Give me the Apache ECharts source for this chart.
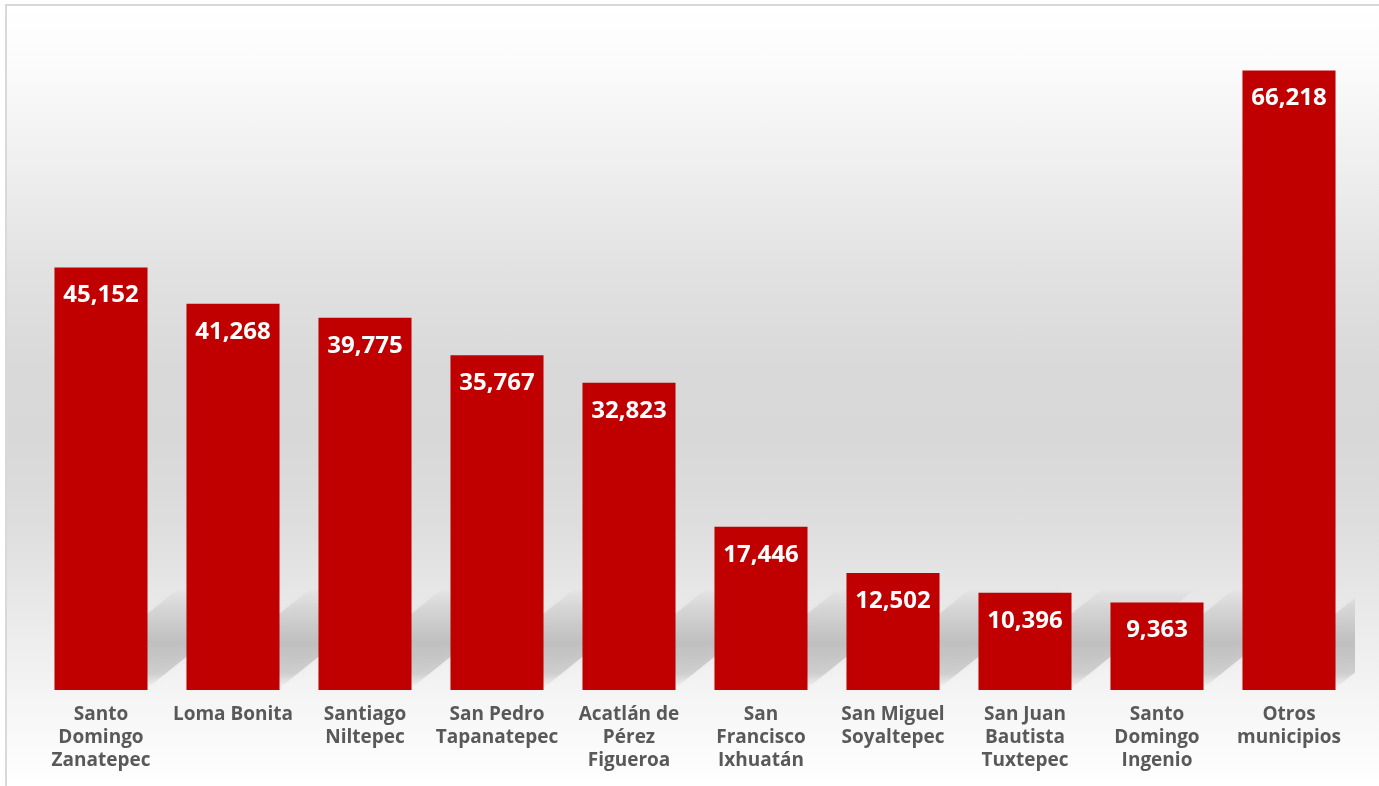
<!DOCTYPE html>
<html>
<head>
<meta charset="utf-8">
<script src="https://cdn.jsdelivr.net/npm/echarts@6/dist/echarts.min.js"></script>
<style>
html,body{margin:0;padding:0;width:1379px;height:786px;overflow:hidden;background:#fff;}
#frame{position:absolute;left:5px;top:4px;width:1400px;height:800px;border-left:2px solid #d9d9d9;border-top:2px solid #d9d9d9;
background:linear-gradient(to bottom,#ffffff 0px,#fbfbfb 60px,#efefef 160px,#e2e2e2 260px,#d9d9d9 360px,#d8d8d8 430px,#dedede 520px,#eaeaea 610px,#f6f6f6 700px,#ffffff 780px);}
#chart{position:absolute;left:0;top:0;width:1379px;height:786px;}
</style>
</head>
<body>
<div id="frame"></div>
<div id="chart"></div>
<script>
const categories = [
  "Santo\nDomingo\nZanatepec",
  "Loma Bonita",
  "Santiago\nNiltepec",
  "San Pedro\nTapanatepec",
  "Acatlán de\nPérez\nFigueroa",
  "San\nFrancisco\nIxhuatán",
  "San Miguel\nSoyaltepec",
  "San Juan\nBautista\nTuxtepec",
  "Santo\nDomingo\nIngenio",
  "Otros\nmunicipios"
];
const values = [45152, 41268, 39775, 35767, 32823, 17446, 12502, 10396, 9363, 66218];

const chart = echarts.init(document.getElementById('chart'), null, {renderer: 'canvas'});
const barRatio = 0.705;
chart.setOption({
  backgroundColor: 'transparent',
  animation: false,
  grid: {left: 35, right: 24, top: 35, bottom: 96, containLabel: false},
  xAxis: {
    type: 'category',
    data: categories,
    axisLine: {show: false},
    axisTick: {show: false},
    axisLabel: {
      interval: 0,
      margin: 13,
      color: '#595959',
      fontFamily: 'Open Sans',
      fontWeight: 'bold',
      fontSize: 19,
      lineHeight: 23
    }
  },
  yAxis: {
    type: 'value', min: 0, max: 70000, show: false,
    splitLine: {show: false}
  },
  series: [
    {
      type: 'custom',
      z: 1,
      silent: true,
      clip: true,
      data: values.map((v, i) => [i, v]),
      renderItem: function (params, api) {
        const base = api.coord([api.value(0), 0]);
        const w = api.size([1, 0])[0] * barRatio;
        const xl = base[0] - w / 2, xr = base[0] + w / 2, y = base[1] - 2;
        const dx = 125, h = 100;
        return {
          type: 'polygon',
          shape: {points: [[xl, y], [xr, y], [xr + dx, y - h], [xl + dx, y - h]]},
          style: {
            fill: new echarts.graphic.LinearGradient(0, 1, 0, 0, [
              {offset: 0, color: 'rgba(0,0,0,0)'},
              {offset: 0.15, color: 'rgba(0,0,0,0.13)'},
              {offset: 0.45, color: 'rgba(0,0,0,0.17)'},
              {offset: 0.8, color: 'rgba(0,0,0,0.07)'},
              {offset: 1, color: 'rgba(0,0,0,0)'}
            ]),
            shadowBlur: 10,
            shadowColor: 'rgba(0,0,0,0.18)'
          }
        };
      }
    },
    {
      type: 'bar',
      z: 2,
      data: values,
      barWidth: (barRatio * 100) + '%',
      itemStyle: {color: '#c00000'},
      label: {
        show: true,
        position: 'insideTop',
        distance: 14,
        color: '#ffffff',
        fontFamily: 'Open Sans',
        fontWeight: 'bold',
        fontSize: 24,
        lineHeight: 28,
        formatter: p => p.value.toLocaleString('en-US')
      }
    }
  ]
});
</script>
</body>
</html>
